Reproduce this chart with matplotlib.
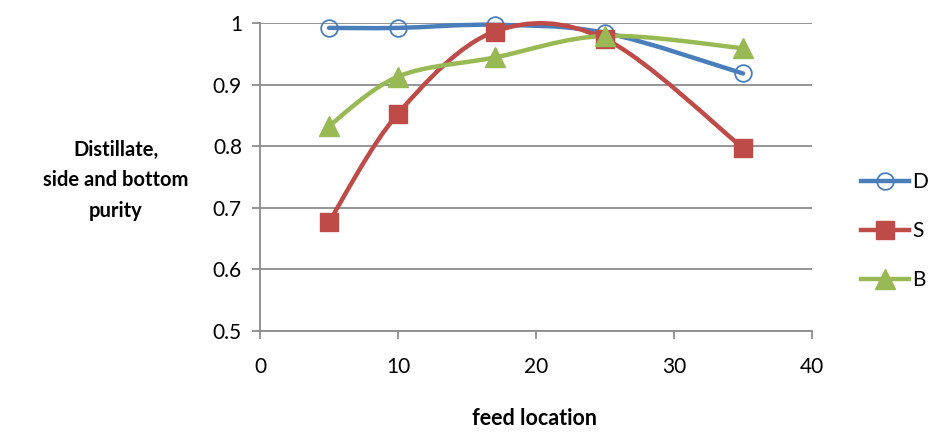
import numpy as np
import matplotlib
matplotlib.use("Agg")
import matplotlib.pyplot as plt
from matplotlib.path import Path
from matplotlib.patches import PathPatch
from matplotlib.lines import Line2D

plt.rcParams['font.family'] = ['Lato', 'DejaVu Sans']

# data
feed = [5, 10, 17, 25, 35]
purity_D = [0.992, 0.992, 0.997, 0.984, 0.918]
purity_S = [0.677, 0.853, 0.986, 0.974, 0.797]
purity_B = [0.833, 0.913, 0.944, 0.979, 0.959]

colors = {'D': '#4a7ebb', 'S': '#be4b48', 'B': '#98b954'}


def smooth_path(xs, ys):
    # excel-like smoothed line: catmull-rom as cubic bezier segments
    pts = np.column_stack([xs, ys]).astype(float)
    n = len(pts)
    verts = [pts[0]]
    codes = [Path.MOVETO]
    for i in range(n - 1):
        p0 = pts[i - 1] if i > 0 else pts[i]
        p1 = pts[i]
        p2 = pts[i + 1]
        p3 = pts[i + 2] if i + 2 < n else pts[i + 1]
        c1 = p1 + (p2 - p0) / 6.0
        c2 = p2 - (p3 - p1) / 6.0
        verts += [c1, c2, p2]
        codes += [Path.CURVE4] * 3
    return Path(verts, codes)


fig = plt.figure(figsize=(9.33, 4.32), dpi=100)
ax = fig.add_axes([0.2787, 0.2338, 0.5916, 0.713])

series = [('D', purity_D, 'o'), ('S', purity_S, 's'), ('B', purity_B, '^')]
for name, vals, mk in series:
    c = colors[name]
    patch = PathPatch(smooth_path(feed, vals), facecolor='none', edgecolor=c,
                      lw=3.2, capstyle='round', joinstyle='round', zorder=3, clip_on=False)
    ax.add_patch(patch)
    if mk == 'o':
        ax.plot(feed, vals, ls='none', marker='o', ms=12, mfc='none', mec=c, mew=1.3,
                zorder=4, clip_on=False)
    elif mk == 's':
        ax.plot(feed, vals, ls='none', marker='s', ms=13, mfc=c, mec=c, zorder=4, clip_on=False)
    else:
        ax.plot(feed, vals, ls='none', marker='^', ms=14, mfc=c, mec=c, zorder=4, clip_on=False)

ax.set_xlim(0, 40)
ax.set_ylim(0.5, 1.0)
ax.set_xticks([0, 10, 20, 30, 40])
ax.set_yticks([0.5, 0.6, 0.7, 0.8, 0.9, 1.0])
ax.set_yticklabels(['0.5', '0.6', '0.7', '0.8', '0.9', '1'])
ax.yaxis.grid(True, color='#8c8c8c', lw=1.3)
ax.set_axisbelow(True)
for s in ['top', 'right']:
    ax.spines[s].set_visible(False)
for s in ['left', 'bottom']:
    ax.spines[s].set_color('#8c8c8c')
    ax.spines[s].set_linewidth(1.3)
ax.tick_params(axis='both', direction='out', length=6, width=1.3, color='#8c8c8c',
               labelsize=15, labelcolor='black')
ax.tick_params(axis='x', pad=13)
ax.tick_params(axis='y', pad=7)

fig.text(0.124, 0.583, 'Distillate,\nside and bottom\npurity', ha='center', va='center',
         fontsize=14.5, fontweight='bold', linespacing=1.65)
fig.text(0.573, 0.032, 'feed location', ha='center', va='center', fontsize=15.5, fontweight='bold')

handles = [
    Line2D([], [], color=colors['D'], lw=3.2, marker='o', ms=12, mfc='none', mec=colors['D'], mew=1.3),
    Line2D([], [], color=colors['S'], lw=3.2, marker='s', ms=13, mfc=colors['S'], mec=colors['S']),
    Line2D([], [], color=colors['B'], lw=3.2, marker='^', ms=14, mfc=colors['B'], mec=colors['B']),
]
fig.legend(handles, ['D', 'S', 'B'], loc='center left', bbox_to_anchor=(0.914, 0.465),
           frameon=False, fontsize=15, handlelength=2.3, handletextpad=0.15, labelspacing=1.38,
           borderaxespad=0)

fig.savefig('out.png', dpi=100)
